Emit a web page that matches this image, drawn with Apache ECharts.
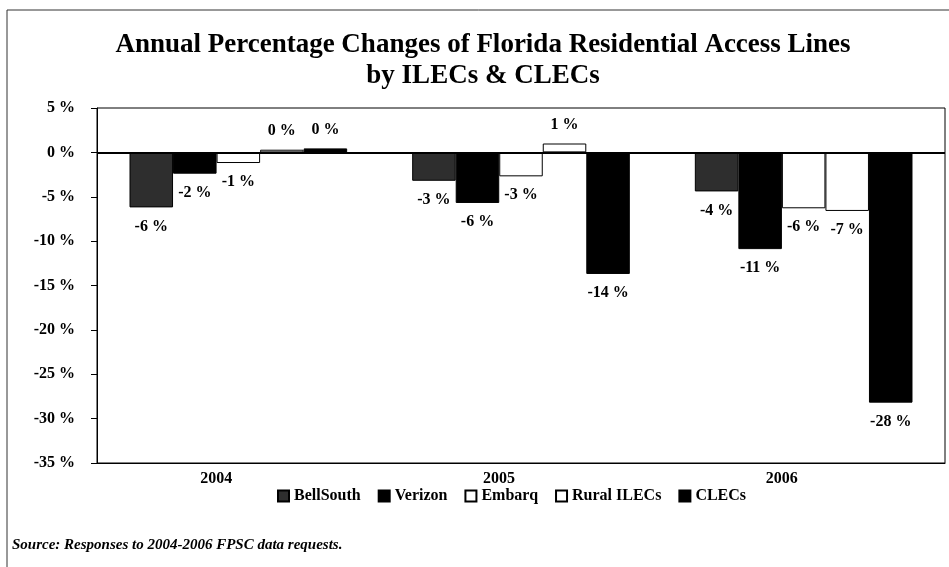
<!DOCTYPE html>
<html>
<head>
<meta charset="utf-8">
<script src="https://cdn.jsdelivr.net/npm/echarts@6/dist/echarts.min.js"></script>
<style>
html,body{margin:0;padding:0;background:#fff;}
#chart{width:949px;height:567px;}
</style>
</head>
<body>
<div id="chart"></div>
<script>
const categories = ['2004', '2005', '2006'];
const seriesNames = ['BellSouth', 'Verizon', 'Embarq', 'Rural ILECs', 'CLECs'];
const bellSouth = [-6.2, -3.2, -4.4];
const verizon = [-2.4, -5.7, -10.9];
const embarq = [-1.2, -2.7, -6.3];
const ruralILECs = [0.3, 1.0, -6.6];
const clecs = [0.45, -13.7, -28.2];
const yMin = -35, yMax = 5, yStep = 5;

const FONT = '"Liberation Serif", "Times New Roman", serif';
const values = [bellSouth, verizon, embarq, ruralILECs, clecs];
const fills = ['#2e2e2e', '#000000', '#ffffff', '#ffffff', '#000000'];

const chart = echarts.init(document.getElementById('chart'));

const series = seriesNames.map((name, i) => ({
  name: name,
  type: 'bar',
  barGap: '0%',
  barCategoryGap: '23%',
  itemStyle: { color: fills[i], borderColor: '#000', borderWidth: 1 },
  label: {
    show: true,
    distance: 11,
    color: '#000',
    fontFamily: FONT,
    fontWeight: 'bold',
    fontSize: 16,
    formatter: p => Math.round(p.value) + ' %'
  },
  data: values[i].map(v => ({ value: v, label: { position: v >= 0 ? 'top' : 'bottom' } })),
  markLine: i === 0 ? {
    silent: true,
    symbol: 'none',
    label: { show: false },
    lineStyle: { color: '#000', width: 2, type: 'solid' },
    data: [{ yAxis: 0 }]
  } : undefined
}));

chart.setOption({
  animation: false,
  backgroundColor: '#fff',
  title: {
    text: 'Annual Percentage Changes of Florida Residential Access Lines\nby ILECs & CLECs',
    left: 478,
    top: 25,
    textAlign: 'center',
    textStyle: { fontFamily: FONT, fontWeight: 'bold', fontSize: 27, lineHeight: 31, color: '#000' }
  },
  graphic: [
    { type: 'rect', shape: { x: 7, y: 10, width: 1000, height: 700 }, style: { fill: 'none', stroke: '#333', lineWidth: 1 }, silent: true },
    { type: 'text', left: 12, top: 538, style: { text: 'Source: Responses to 2004-2006 FPSC data requests.', font: 'italic bold 15px "Liberation Serif", serif', fill: '#000' } }
  ],
  legend: {
    left: 272,
    top: 483,
    itemWidth: 11,
    itemHeight: 11,
    itemGap: 17,
    icon: 'rect',
    data: seriesNames,
    textStyle: { fontFamily: FONT, fontWeight: 'bold', fontSize: 16, color: '#000' }
  },
  grid: {
    left: 97, right: 4, top: 108, bottom: 104,
    show: true, borderColor: '#000', borderWidth: 1, backgroundColor: 'transparent'
  },
  xAxis: {
    type: 'category',
    data: categories,
    axisLine: { onZero: false, lineStyle: { color: '#000' } },
    axisTick: { show: false },
    axisLabel: { margin: 8, color: '#000', fontFamily: FONT, fontWeight: 'bold', fontSize: 16, padding: [0, 44, 0, 0] }
  },
  yAxis: {
    type: 'value',
    min: yMin, max: yMax, interval: yStep,
    axisLine: { show: true, lineStyle: { color: '#000' } },
    axisTick: { show: true, length: 6, lineStyle: { color: '#000' } },
    splitLine: { show: false },
    axisLabel: { margin: 22, color: '#000', fontFamily: FONT, fontWeight: 'bold', fontSize: 16, formatter: v => v + ' %' }
  },
  series: series
});
</script>
</body>
</html>
